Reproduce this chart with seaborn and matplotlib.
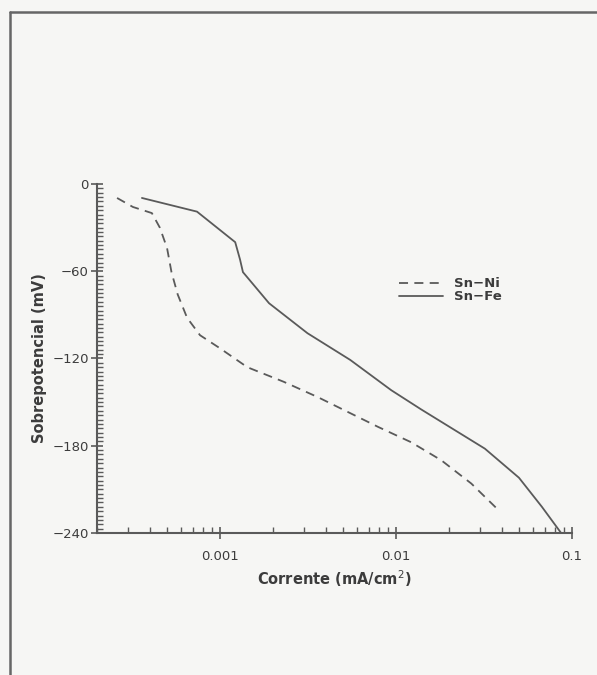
# Curvas de polarização Sn-Ni e Sn-Fe
import pandas as pd
import matplotlib.pyplot as plt
import seaborn as sns
import numpy as np
from matplotlib.lines import Line2D
from matplotlib.ticker import FixedLocator, FuncFormatter, MultipleLocator, LogLocator

# valores
corrente_ni = [2.6e-4, 3.2e-4, 4.1e-4, 4.55e-4, 5.0e-4, 5.3e-4, 5.75e-4, 6.5e-4, 7.7e-4, 1.0e-3,
               1.43e-3, 2.3e-3, 3.6e-3, 7.9e-3, 1.22e-2, 1.81e-2, 2.68e-2, 3.73e-2]
potencial_ni = [-9.6, -15.8, -20, -30, -44, -60.6, -76, -92, -104, -113,
                -126, -136, -146.6, -167, -177.6, -190, -206, -223]

corrente_fe = [3.6e-4, 7.4e-4, 1.22e-3, 1.3e-3, 1.35e-3, 1.9e-3, 3.14e-3, 5.5e-3, 9.4e-3,
               1.39e-2, 3.2e-2, 5.0e-2, 6.75e-2, 8.8e-2]
potencial_fe = [-9.6, -19, -40, -52, -60.6, -82, -102.6, -121, -141.8,
                -155, -182, -202, -222, -241]

df = pd.concat([
    pd.DataFrame({'Corrente': corrente_ni, 'Potencial': potencial_ni, 'Liga': 'Sn\u2212Ni'}),
    pd.DataFrame({'Corrente': corrente_fe, 'Potencial': potencial_fe, 'Liga': 'Sn\u2212Fe'}),
])

sns.set_style('white')
plt.rcParams['font.family'] = ['DejaVu Sans']
cinza = '#5a5a5a'
texto = '#3c3c3c'

fig = plt.figure(figsize=(5.97, 6.75), dpi=100)
fig.patch.set_facecolor('#f6f6f4')
ax = fig.add_axes([0.1625, 0.2104, 0.7955, 0.517])
ax.set_facecolor('#f6f6f4')

sns.lineplot(data=df, x='Corrente', y='Potencial', style='Liga', sort=False, ax=ax,
             color=cinza, linewidth=1.3,
             dashes={'Sn\u2212Ni': (5, 3.5), 'Sn\u2212Fe': ''}, estimator=None)

ax.set_xscale('log')
ax.set_xlim(2e-4, 0.1)
ax.set_ylim(-240, 0)

ax.xaxis.set_major_locator(FixedLocator([0.001, 0.01, 0.1]))
ax.xaxis.set_major_formatter(FuncFormatter(lambda v, p: {0.001: '0.001', 0.01: '0.01', 0.1: '0.1'}.get(round(v, 4), '')))
ax.xaxis.set_minor_locator(LogLocator(base=10, subs=np.arange(2, 10)))
ax.yaxis.set_major_locator(MultipleLocator(60))
ax.yaxis.set_minor_locator(MultipleLocator(3))

ax.tick_params(axis='both', which='both', bottom=True, left=True, top=False, right=False)
ax.tick_params(axis='both', which='major', direction='inout', length=8, width=1.2,
               color=cinza, labelcolor=texto, labelsize=9.5)
ax.tick_params(axis='both', which='minor', direction='in', length=4, width=1.0, color=cinza)
ax.tick_params(axis='x', which='major', pad=8)
ax.tick_params(axis='y', which='major', pad=2)

for lado in ['top', 'right']:
    ax.spines[lado].set_visible(False)
for lado in ['left', 'bottom']:
    ax.spines[lado].set_color(cinza)
    ax.spines[lado].set_linewidth(1.5)

ax.set_xlabel('Corrente (mA/cm$^2$)', fontsize=10.5, color=texto, fontweight='bold', labelpad=4)
ax.set_ylabel('Sobrepotencial (mV)', fontsize=10.5, color=texto, fontweight='bold', labelpad=4)

leg = ax.legend(loc='center left', bbox_to_anchor=(0.61, 0.695), frameon=False, fontsize=9.5,
                handlelength=3.4, handletextpad=0.8, labelspacing=0.0)
for t in leg.get_texts():
    t.set_color(texto)
    t.set_fontweight('bold')

# moldura da figura escaneada
fig.add_artist(Line2D([10 / 597, 1], [1 - 12 / 675, 1 - 12 / 675], color='#666666', lw=1.8))
fig.add_artist(Line2D([10 / 597, 10 / 597], [0, 1 - 12 / 675], color='#666666', lw=1.8))

plt.savefig('out.png', dpi=100, facecolor=fig.get_facecolor())
